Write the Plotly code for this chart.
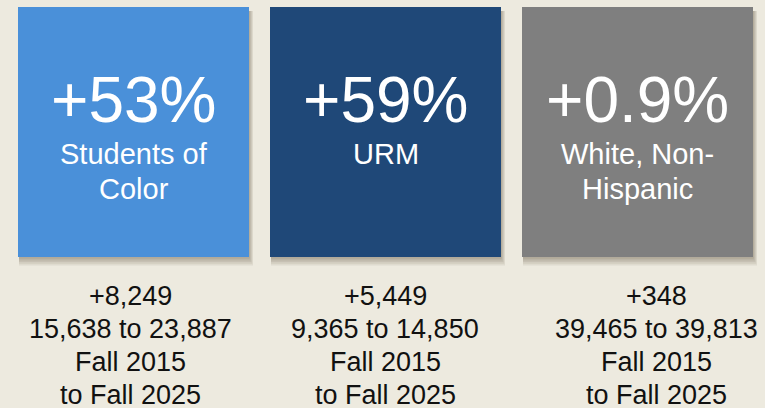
import plotly.graph_objects as go

# ---------------- data ----------------
groups = ["Students of<br>Color", "URM", "White, Non-<br>Hispanic"]
pct_change = ["+53%", "+59%", "+0.9%"]
abs_change = ["+8,249", "+5,449", "+348"]
count_2015 = ["15,638", "9,365", "39,465"]
count_2025 = ["23,887", "14,850", "39,813"]
period_start = "Fall 2015"
period_end = "to Fall 2025"
tile_colors = ["#4A90D9", "#1F4878", "#7F7F7F"]

# ---------------- layout constants ----------------
W, H = 765, 408
BG = "#EDEADF"
FONT = "Liberation Sans, Arial, Helvetica, sans-serif"
COL_PX = 252.0          # pixels per category unit
X0_PX = 133.5           # pixel of category 0
TILE_W = 231 / COL_PX
TILE_TOP_PX, TILE_BOT_PX = 7, 257
PX_PER_Y = TILE_BOT_PX - TILE_TOP_PX

def ypx(px):
    return (TILE_BOT_PX - px) / PX_PER_Y

def xpx(dpx):
    return dpx / COL_PX

x_range = [-X0_PX / COL_PX, (W - X0_PX) / COL_PX]
y_range = [ypx(H), ypx(0)]

idx = list(range(len(groups)))

fig = go.Figure()
fig.add_trace(go.Bar(
    x=idx, y=[1] * len(idx), base=0, width=TILE_W,
    marker=dict(color=tile_colors, line=dict(width=0)),
    hoverinfo="skip", showlegend=False,
))

# soft drop shadows
shapes = []
for i in idx:
    for k in range(1, 6):
        shapes.append(dict(
            type="rect", xref="x", yref="y", layer="below",
            x0=i - TILE_W / 2 + xpx(1), x1=i + TILE_W / 2 + xpx(k * 0.8),
            y0=ypx(TILE_BOT_PX + k * 1.7), y1=ypx(TILE_TOP_PX + 4),
            fillcolor="rgba(60,50,30,0.08)", line=dict(width=0),
        ))

annotations = []
def add_text(x, y_center_px, text, size, color):
    annotations.append(dict(
        x=x, y=ypx(y_center_px), xref="x", yref="y", text=text,
        showarrow=False, xanchor="center", yanchor="middle",
        font=dict(family=FONT, size=size, color=color),
    ))

bottom_offsets = [xpx(-3), xpx(-0.5), xpx(19)]
for i in idx:
    add_text(i, 122 - 0.347 * 64, pct_change[i], 64, "white")
    lines = groups[i].split("<br>")
    for j, ln in enumerate(lines):
        add_text(i, 164 + 35 * j - 0.347 * 29, ln, 29, "white")
    blines = [abs_change[i], f"{count_2015[i]} to {count_2025[i]}",
              period_start, period_end]
    for j, ln in enumerate(blines):
        add_text(i + bottom_offsets[i], 305 + 33 * j - 0.347 * 27, ln, 27, "#111111")

fig.update_layout(
    width=W, height=H,
    margin=dict(l=0, r=0, t=0, b=0),
    paper_bgcolor=BG, plot_bgcolor=BG,
    xaxis=dict(range=x_range, visible=False, fixedrange=True),
    yaxis=dict(range=y_range, visible=False, fixedrange=True),
    shapes=shapes, annotations=annotations,
    bargap=0,
)
fig.write_html(
    "out.html",
    config={"displayModeBar": False},
    post_script="document.body.style.margin='0';document.body.style.background='%s';" % BG,
)
